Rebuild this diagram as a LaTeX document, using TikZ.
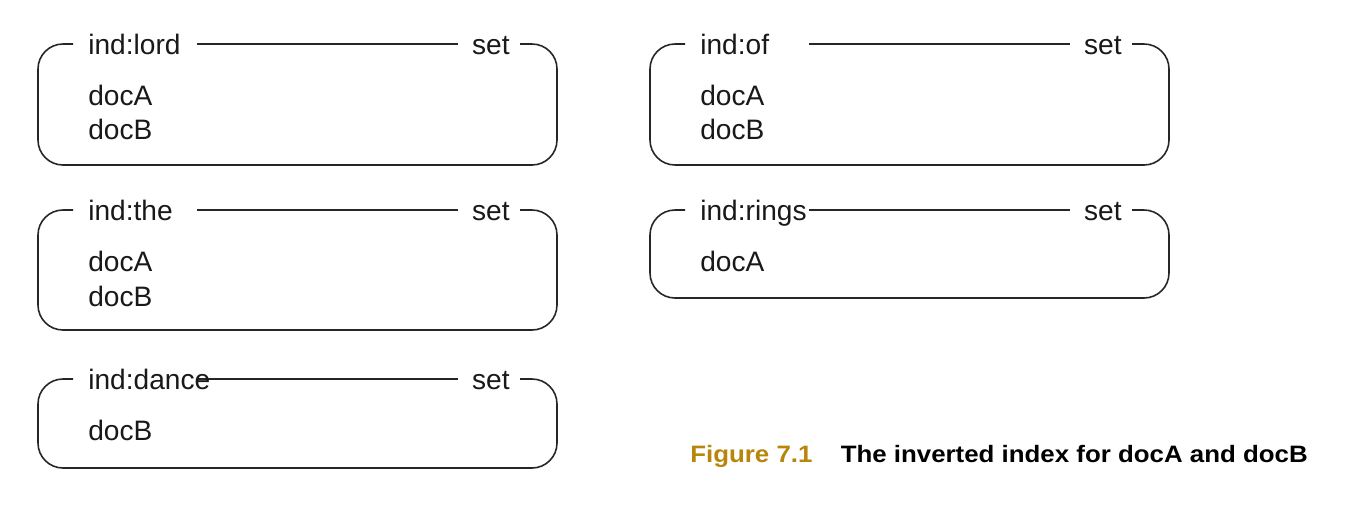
\documentclass[tikz,border=0pt]{standalone}
\usepackage{fontspec}
\setmainfont{Liberation Sans}
\usetikzlibrary{positioning}
\definecolor{figgold}{RGB}{184,134,11}

\begin{document}
\begin{tikzpicture}[
    x=0.02cm, y=-0.02cm,    % one unit = one pixel of the page
    node distance=0.7cm,    % spacing between entries
    frame/.style={line width=0.9pt, draw=black!85, rounded corners=0.5cm},
    label/.style={inner sep=0pt, anchor=base west, text=black!90,
                  font=\fontsize{16}{19}\selectfont},
    settag/.style={label, anchor=base east},
    entry/.style={label}]
    \fill[white] (0,0) rectangle (1366,518);

    % Frames of the sets
    \foreach \n/\l/\t/\b in {lord/38/44/165, the/38/210/330, dance/38/379/468,
                             of/650/44/165, rings/650/210/298} {
        \draw[frame] (\l+35,\t) -- (\l,\t) -- (\l,\b) -- (\l+519,\b)
                     -- (\l+519,\t) -- (\l+482,\t);
        \draw[line width=0.9pt, black!85] (\l+159,\t) -- (\l+420,\t);
    }

    % Keys
    \node[label] (lord) at (88,54) {ind:lord};
    \node[label] (the) at (88,220) {ind:the};
    \node[label] (dance) at (88,389) {ind:dance};
    \node[label] (of) at (700,54) {ind:of};
    \node[label] (rings) at (700,220) {ind:rings};

    % Types
    \node[settag] (lordset) at (510,54) {set};
    \node[settag] (theset) at (510,220) {set};
    \node[settag] (danceset) at (510,389) {set};
    \node[settag] (ofset) at (1122,54) {set};
    \node[settag] (ringsset) at (1122,220) {set};

    % Members
    \node[entry] (lordA) at (88,105) {docA};
    \node[entry, below of=lordA] (lordB) {docB};
    \node[entry] (theA) at (88,271) {docA};
    \node[entry, below of=theA] (theB) {docB};
    \node[entry] (danceB) at (88,440) {docB};
    \node[entry] (ofA) at (700,105) {docA};
    \node[entry, below of=ofA] (ofB) {docB};
    \node[entry] (ringsA) at (700,271) {docA};

    % Caption
    \node[anchor=base west, inner sep=0pt, font=\bfseries\fontsize{13.5}{16}\selectfont]
        (caption) at (690,462)
        {\scalebox{1.09}[1]{\textcolor{figgold}{Figure 7.1}\hspace{0.52cm}The inverted index for docA and docB}};
\end{tikzpicture}
\end{document}
